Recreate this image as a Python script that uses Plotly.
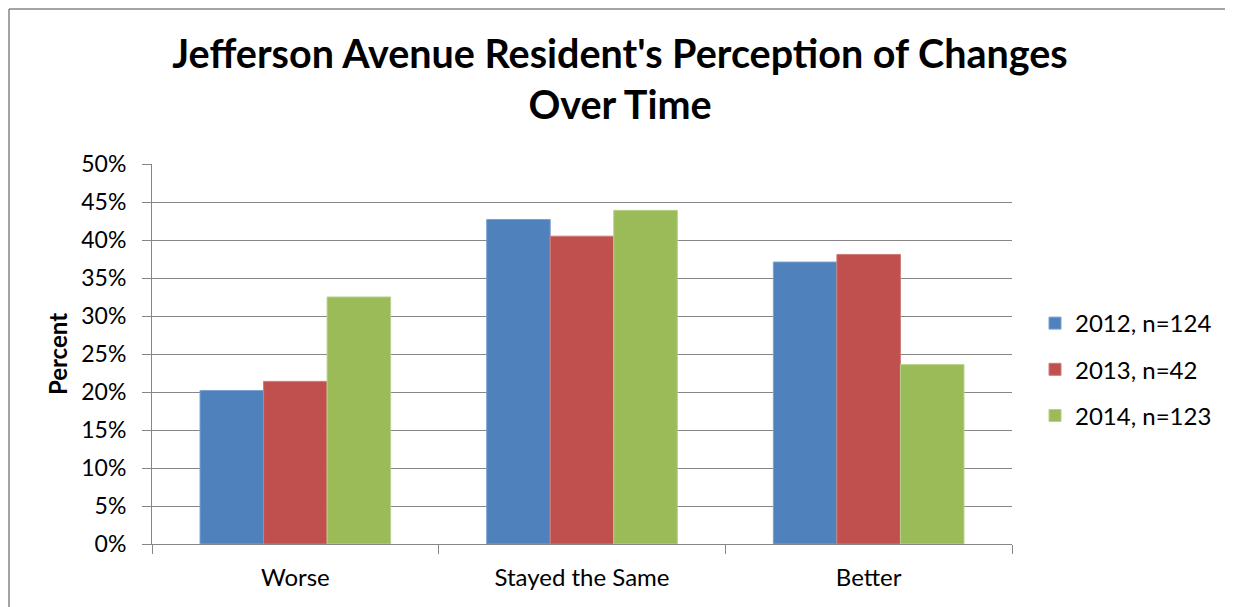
import plotly.graph_objects as go

categories = ["Worse", "Stayed the Same", "Better"]
series_names = ["2012, n=124", "2013, n=42", "2014, n=123"]
values_2012 = [20.2, 42.7, 37.1]
values_2013 = [21.4, 40.5, 38.1]
values_2014 = [32.5, 43.9, 23.6]
colors = ["#4F81BD", "#C0504D", "#9BBB59"]
line_colors = ["#7DA1D0", "#D07C79", "#B7D08A"]

# figure sized so that, with the page's default 8px body margin, it fills the window
W, H = 1225, 599
L, R, T, B = 144, 221, 156, 63

fig = go.Figure()
for name, vals, c, lc in zip(series_names, [values_2012, values_2013, values_2014], colors, line_colors):
    fig.add_trace(go.Bar(
        x=categories, y=vals, name=name, legendgroup=name,
        marker=dict(color=c, line=dict(color=lc, width=1)),
    ))

font_family = "Lato, 'Open Sans', sans-serif"
pw, ph = W - L - R, H - T - B

border = dict(color="#868686", width=1.5)
fig.update_layout(
    width=W, height=H,
    margin=dict(l=L, r=R, t=T, b=B, pad=0),
    paper_bgcolor="white", plot_bgcolor="white",
    font=dict(family=font_family, size=23, color="#000000"),
    barmode="group", bargap=0.335, bargroupgap=0,
    title=dict(
        text="<b>Jefferson Avenue Resident's Perception of Changes<br>Over Time</b>",
        x=(620 - 8) / W, xref="container", xanchor="center",
        y=1 - 60 / H, yref="container", yanchor="top",
        font=dict(size=39.5, family=font_family, color="#000000"),
    ),
    legend=dict(
        x=(1027 - L) / pw, xanchor="left",
        y=(H - B - 293) / ph, yanchor="top",
        font=dict(size=24, family=font_family),
        tracegroupgap=12, itemwidth=30,
        bgcolor="rgba(0,0,0,0)",
    ),
    showlegend=True,
    xaxis=dict(
        showline=True, linecolor="#868686", linewidth=1,
        ticks="outside", tickson="boundaries", ticklen=9, tickcolor="#868686",
        showgrid=False, tickfont=dict(size=24), ticklabelstandoff=12,
    ),
    yaxis=dict(
        range=[0, 50], dtick=5, ticksuffix="%",
        showline=True, linecolor="#868686", linewidth=1,
        ticks="outside", ticklen=9, tickcolor="#868686",
        showgrid=True, gridcolor="#868686", gridwidth=1,
        tickfont=dict(size=23), ticklabelstandoff=11,
        title=dict(text="<b>Percent</b>", font=dict(size=24), standoff=6),
        zeroline=False,
    ),
    shapes=[
        dict(type="line", xref="paper", yref="paper",
             x0=(1 - L) / pw, x1=(W + 20 - L) / pw,
             y0=(H - 1 - B) / ph, y1=(H - 1 - B) / ph, line=border, layer="below"),
        dict(type="line", xref="paper", yref="paper",
             x0=(1 - L) / pw, x1=(1 - L) / pw,
             y0=-(B + 20) / ph, y1=(H - 1 - B) / ph, line=border, layer="below"),
    ],
)

fig.write_html("out.html")
